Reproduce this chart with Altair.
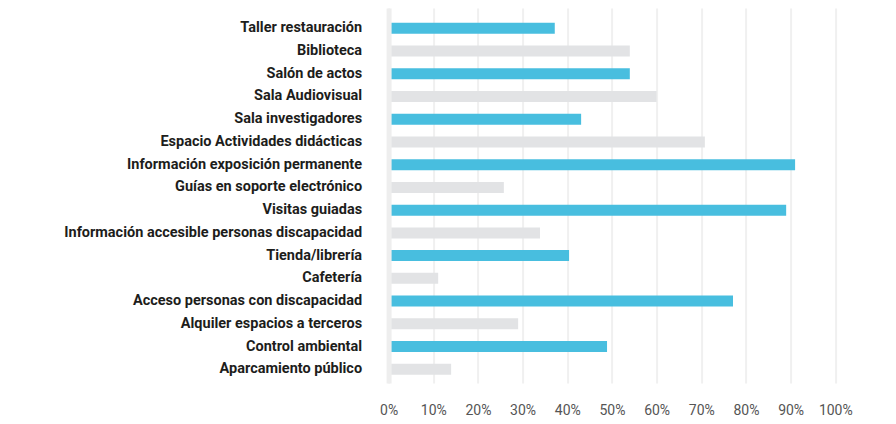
import altair as alt
import pandas as pd

categorias = [
    "Taller restauración",
    "Biblioteca",
    "Salón de actos",
    "Sala Audiovisual",
    "Sala investigadores",
    "Espacio Actividades didácticas",
    "Información exposición permanente",
    "Guías en soporte electrónico",
    "Visitas guiadas",
    "Información accesible personas discapacidad",
    "Tienda/librería",
    "Cafetería",
    "Acceso personas con discapacidad",
    "Alquiler espacios a terceros",
    "Control ambiental",
    "Aparcamiento público",
]
valores = [37.2, 54.0, 54.0, 60.0, 43.1, 70.8, 91.0, 25.8,
           89.0, 33.9, 40.4, 11.1, 77.1, 29.0, 48.9, 14.0]
grupos = ["a" if i % 2 == 0 else "b" for i in range(len(categorias))]
colores = ["#48bedf", "#e2e3e5"]
ticks = [0, 10, 20, 30, 40, 50, 60, 70, 80, 90, 100]

df = pd.DataFrame({"categoria": categorias, "valor": [v / 100 for v in valores], "grupo": grupos})

chart = alt.Chart(df).mark_bar().encode(
    x=alt.X("valor:Q",
            scale=alt.Scale(domain=[0, 1], nice=False),
            axis=alt.Axis(values=[t / 100 for t in ticks], format=".0%", title=None,
                          grid=True, gridColor="#f0f0f0", gridWidth=2,
                          domain=False, ticks=False, labelPadding=21,
                          labelOverlap=False, labelFlush=False,
                          labelFont="Roboto", labelFontSize=14, labelColor="#555555",
                          labelFontWeight="normal")),
    y=alt.Y("categoria:N", sort=categorias,
            scale=alt.Scale(paddingInner=0.516, paddingOuter=0.506, align=0.643),
            axis=alt.Axis(title=None, domain=True, domainColor="#eeeeee", domainWidth=5,
                          ticks=False, tickSize=0, labelPadding=27, zindex=1,
                          labelFont="Roboto", labelFontSize=14.5, labelFontWeight="bold",
                          labelColor="#1d1d1b", labelLimit=400)),
    color=alt.Color("grupo:N", scale=alt.Scale(domain=["a", "b"], range=colores), legend=None),
).properties(
    width=446.7,
    height=375,
    autosize=alt.AutoSizeParams(type="none"),
    padding={"left": 380.6, "top": 0, "right": 40, "bottom": 40},
).configure_view(stroke=None)

chart.save("out.html", embed_options={"renderer": "svg", "actions": False})
